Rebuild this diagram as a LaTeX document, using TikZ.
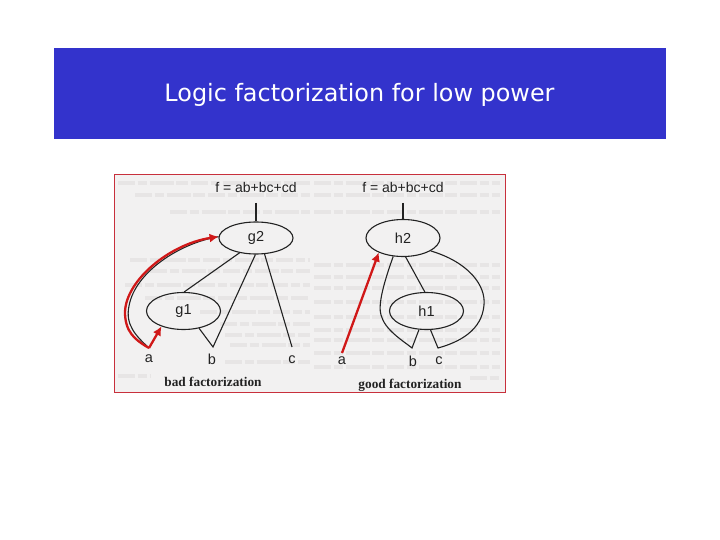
\documentclass[tikz,border=0pt]{standalone}
\usepackage{fontspec}
\setmainfont{Liberation Sans}
\newfontfamily\titlefont{DejaVu Sans}
\newfontfamily\capfont{Liberation Serif}
\usetikzlibrary{shapes.geometric,arrows.meta}
\definecolor{slideblue}{HTML}{3333CC}
\definecolor{framered}{HTML}{C8303C}
\definecolor{ink}{HTML}{222222}
\definecolor{arrowred}{HTML}{D01818}
\definecolor{scan}{HTML}{F2F1F1}
\definecolor{ghostbar}{HTML}{E7E5E5}
\tikzset{
  gate/.style={ellipse,draw=ink,line width=1.1pt,minimum width=74pt,inner sep=0pt,font=\fontsize{14.5}{14.5}\selectfont,text=ink},
  sig/.style={inner sep=0pt,font=\fontsize{14.5}{14.5}\selectfont,text=ink},
  ftext/.style={inner sep=0pt,font=\fontsize{14}{14}\selectfont,text=ink},
  wire/.style={draw=ink,line width=1.1pt},
  redpath/.style={draw=arrowred,line width=2.3pt,-{Latex[length=9pt,width=9pt]}},
  capt/.style={inner sep=0pt,font=\capfont\bfseries\fontsize{13.3}{13.3}\selectfont,text=ink},
  bleed/.style={draw=ghostbar,line width=4pt,dash pattern=on 17pt off 2.5pt on 9pt off 3pt on 24pt off 2.5pt on 12pt off 3pt}
}
\begin{document}
\begin{tikzpicture}[x=1pt,y=-1pt]
\useasboundingbox (0,0) rectangle (720,540);
\fill[white] (0,0) rectangle (720,540);
\fill[slideblue] (54,48) rectangle (666,139);
\node[inner sep=0pt,text=white,font=\titlefont\fontsize{23.9}{26}\selectfont] (title) at (359.5,95) {Logic factorization for low power};
\fill[scan] (114.5,174.5) rectangle (505,392.5);
\foreach \yy/\xa/\xb in {183/118/310,195/135/310,212/170/310,260/130/310,271/150/310,285/125/310,298/145/310,312/200/310,324/220/310,335/225/310,345/230/310,362/225/310,376/118/150}
  {\draw[bleed] (\xa,\yy) -- (\xb,\yy);}
\foreach \yy/\xa/\xb in {183/314/500,195/314/500,212/314/500,265/314/500,277/314/500,288/314/500,302/314/500,317/314/500,330/314/500,340/314/500,353/314/500,367/314/500,378/470/500}
  {\draw[bleed] (\xa,\yy) -- (\xb,\yy);}
\draw[framered,line width=0.9pt] (114.5,174.5) rectangle (505,392.5);
% left
\node[gate,minimum height=32pt] (g2) at (256,238) {g2};
\node[gate,minimum height=37pt] (g1) at (183.5,311) {g1};
\node[ftext] (f1) at (256,187) {f = ab+bc+cd};
\node[sig] (a1) at (149,359) {a};
\node[sig] (b1) at (212,359) {b};
\node[sig] (c1) at (292,360) {c};
\node[capt] (bad) at (213,382) {bad factorization};
\coordinate (f1s) at (256,203);
\coordinate (a1t) at (149,348);
\coordinate (b1t) at (213,347);
\coordinate (c1t) at (292,347);
\draw[wire] (f1s) -- (g2);
\draw[wire] (g2.222) -- (g1.88);
\draw[wire] (g2.268) -- (b1t) -- (g1.-48);
\draw[wire] (g2.-62) -- (c1t);
\draw[wire] (a1t) .. controls (136,336) and (125,325) .. (129,306) .. controls (135,272) and (180,243) .. (g2.178);
\draw[redpath] (a1t) -- (g1.-145);
\draw[redpath] (a1t) .. controls (135,340) and (125,332) .. (125,312) .. controls (126,280) and (170,244) .. (g2.178);
% right
\node[gate,minimum height=37pt] (h2) at (403,238) {h2};
\node[gate,minimum height=37pt] (h1) at (426.5,311) {h1};
\node[ftext] (f2) at (403,187) {f = ab+bc+cd};
\node[sig] (a2) at (342,361) {a};
\node[sig] (b2) at (413,361) {b};
\node[sig] (c2) at (439,361) {c};
\node[capt] (good) at (410,385) {good factorization};
\coordinate (f2s) at (403,203);
\coordinate (a2t) at (342,353);
\coordinate (b2t) at (412,348);
\coordinate (c2t) at (438,348);
\draw[wire,line width=1.5pt] (f2s) -- (h2);
\draw[wire] (h2.-118) .. controls (383,285) and (378,305) .. (381,315) .. controls (385,330) and (402,340) .. (b2t) -- (h1.-112);
\draw[wire] (h2.-25) .. controls (468,262) and (486,285) .. (484,305) .. controls (482,330) and (460,342) .. (c2t) -- (h1.-78);
\draw[wire] (h2.-82) -- (h1.95);
\draw[redpath] (a2t) -- (h2.-149);
\end{tikzpicture}
\end{document}
